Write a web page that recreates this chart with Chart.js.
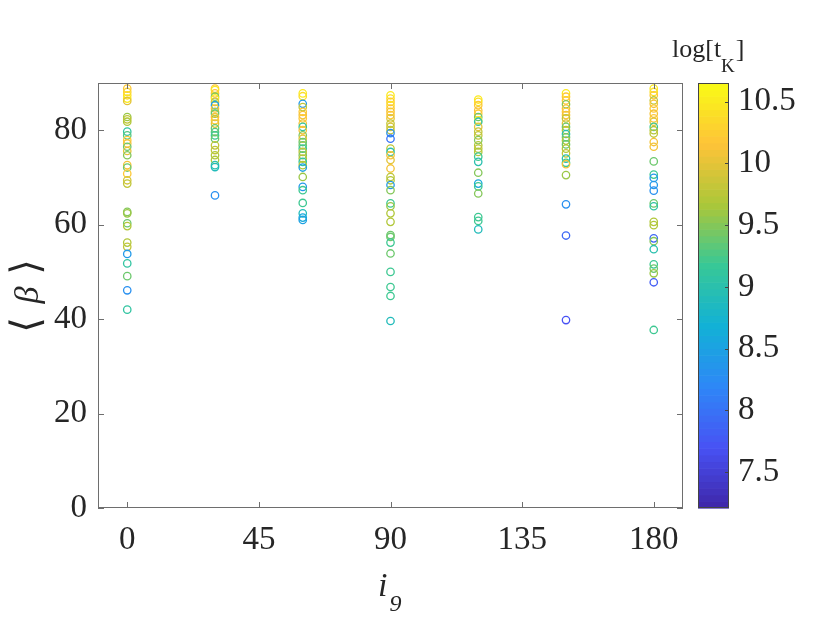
<!DOCTYPE html>
<html>
<head>
<meta charset="utf-8">
<script src="https://cdn.jsdelivr.net/npm/chart.js@4.4.1/dist/chart.umd.min.js"></script>
<style>
  html, body { margin: 0; padding: 0; background: #fff; }
  #wrap { width: 830px; height: 623px; }
</style>
</head>
<body>
<div id="wrap"><canvas id="scatter" width="830" height="623"></canvas></div>
<script>
// inclination columns and <beta> / log[tK]
const incl = [0, 30, 60, 90, 120, 150, 180];

const beta0 = [88.8, 88.1, 87.4, 86.7, 86.2, 82.8, 82.3, 81.8, 79.7, 78.9, 77.9, 77.2, 76.5, 75.6, 74.7, 72.6, 72.1, 70.8, 69.4, 68.7, 62.7, 62.4, 60.3, 59.7, 56.2, 55.3, 53.8, 51.8, 49.1, 46.1, 42.0];
const logt0 = [10.2, 10.3, 10.4, 10.5, 10.0, 9.6, 9.8, 9.7, 9.1, 9.3, 10.2, 10.1, 9.4, 10.0, 9.5, 10.1, 9.4, 10.2, 9.9, 9.8, 9.5, 9.6, 9.4, 9.7, 9.7, 9.8, 8.4, 9.1, 9.4, 8.3, 9.1];

const beta30 = [88.8, 88.5, 87.8, 87.1, 86.7, 86.0, 85.3, 84.6, 83.9, 83.5, 82.8, 82.1, 81.4, 80.4, 79.6, 78.9, 78.2, 76.8, 75.8, 74.7, 73.7, 72.6, 72.2, 66.2];
const logt30 = [10.2, 10.5, 10.2, 9.5, 10.5, 9.9, 8.5, 10.1, 9.8, 9.4, 10.1, 10.2, 10.0, 9.4, 9.3, 9.2, 9.4, 9.8, 9.8, 9.7, 9.7, 9.0, 8.9, 8.3];

const beta60 = [87.8, 87.2, 85.6, 84.9, 83.9, 83.2, 82.5, 81.4, 80.7, 80.0, 78.9, 78.2, 77.5, 76.8, 76.1, 75.4, 74.7, 74.0, 73.3, 72.6, 72.1, 70.1, 68.0, 67.3, 64.6, 62.4, 61.5, 61.0];
const logt60 = [10.5, 10.4, 8.4, 9.8, 10.2, 10.1, 10.2, 10.1, 9.1, 10.1, 9.5, 10.0, 9.4, 9.4, 9.2, 9.8, 9.5, 9.7, 9.1, 9.7, 8.5, 9.6, 8.4, 9.2, 9.2, 8.9, 8.6, 8.5];

const beta90 = [87.4, 86.7, 86.0, 85.3, 84.6, 83.9, 83.2, 82.5, 81.4, 80.7, 80.0, 79.4, 78.2, 76.1, 75.4, 74.7, 73.7, 71.9, 70.1, 69.4, 68.4, 67.3, 64.5, 63.9, 62.4, 60.6, 57.8, 57.4, 56.2, 53.9, 50.0, 46.8, 44.9, 39.6];
const logt90 = [10.5, 10.4, 10.2, 10.4, 10.2, 10.1, 10.2, 10.0, 9.8, 9.9, 9.8, 8.3, 8.0, 9.8, 9.0, 10.1, 10.0, 10.1, 9.8, 9.7, 8.4, 9.5, 9.2, 9.6, 9.7, 9.7, 9.4, 9.4, 9.2, 9.4, 9.2, 9.2, 9.2, 8.9];

const beta120 = [86.5, 86.0, 85.3, 84.2, 83.5, 82.8, 82.1, 81.8, 80.7, 79.7, 78.9, 77.9, 76.8, 76.1, 75.4, 74.4, 73.3, 71.0, 68.7, 68.1, 66.6, 61.6, 60.8, 59.0];
const logt120 = [10.5, 10.4, 10.2, 10.1, 10.2, 9.4, 10.5, 9.0, 10.0, 9.8, 9.8, 9.5, 9.7, 9.8, 9.7, 9.2, 9.0, 9.5, 8.6, 9.2, 9.5, 9.2, 9.2, 8.9];

const beta150 = [87.8, 87.1, 86.3, 85.5, 84.6, 83.9, 83.2, 82.5, 81.4, 80.7, 80.0, 79.2, 78.5, 77.8, 77.0, 76.1, 75.1, 74.0, 73.1, 72.8, 70.5, 64.3, 57.7, 39.8];
const logt150 = [10.5, 10.2, 10.2, 9.5, 10.1, 10.2, 10.1, 9.8, 10.0, 9.4, 9.7, 9.0, 9.4, 9.7, 9.4, 9.7, 9.8, 9.0, 9.2, 10.1, 9.6, 8.3, 7.9, 7.7];

const beta180 = [88.8, 88.1, 87.4, 86.3, 85.6, 84.6, 83.5, 82.5, 81.8, 80.7, 80.0, 79.3, 77.5, 76.5, 73.4, 70.6, 69.9, 68.4, 67.2, 64.5, 63.9, 60.6, 59.9, 57.1, 56.5, 54.8, 51.6, 50.7, 49.7, 47.8, 37.7];
const logt180 = [10.5, 10.4, 10.2, 9.8, 10.1, 10.2, 10.1, 10.2, 10.0, 9.2, 9.7, 9.8, 10.1, 10.1, 9.4, 9.2, 8.4, 8.4, 8.3, 9.4, 9.1, 9.7, 9.7, 7.9, 9.5, 9.0, 9.2, 9.4, 9.6, 7.8, 9.2];

const xTicks = [0, 45, 90, 135, 180];
const yTicks = [0, 20, 40, 60, 80];
const cTicks = [7.5, 8, 8.5, 9, 9.5, 10, 10.5];
const cMin = 7.21, cMax = 10.65;

const betaCols = [beta0, beta30, beta60, beta90, beta120, beta150, beta180];
const logtCols = [logt0, logt30, logt60, logt90, logt120, logt150, logt180];

// parula-like colormap
const parula = [[62, 38, 168], [72, 82, 244], [46, 135, 247], [18, 177, 214],
                [55, 200, 151], [171, 199, 57], [254, 195, 56], [249, 251, 21]];

function parulaColor(t) {
    t = Math.min(1, Math.max(0, t));
    const p = t * (parula.length - 1);
    const i = Math.min(parula.length - 2, Math.floor(p));
    const f = p - i;
    const a = parula[i], b = parula[i + 1];
    const c = a.map((v, k) => Math.round(v + (b[k] - v) * f));
    return 'rgb(' + c.join(',') + ')';
}

const points = [];
incl.forEach((x, ci) => {
    betaCols[ci].forEach((y, j) => {
        points.push({ x: x, y: y, c: logtCols[ci][j] });
    });
});

const serif = '"Liberation Serif", "Times New Roman", serif';
const axisGray = '#6e6e6e';
const textDark = '#262626';

const fixedTicks = (list) => (scale) => {
    scale.ticks = list.map(v => ({ value: v }));
};

const boxPlugin = {
    id: 'matlabBox',
    afterDraw(chart) {
        const ctx = chart.ctx;
        const a = chart.chartArea;
        const xs = chart.scales.x, ys = chart.scales.y, cs = chart.scales.cb;
        const tl = 6;
        ctx.save();

        // axes box
        ctx.strokeStyle = axisGray;
        ctx.lineWidth = 1;
        ctx.strokeRect(a.left + 0.5, a.top + 0.5, a.right - a.left - 1, a.bottom - a.top - 1);

        // inward ticks on all four sides
        ctx.beginPath();
        xTicks.forEach(v => {
            const px = Math.round(xs.getPixelForValue(v)) + 0.5;
            ctx.moveTo(px, a.bottom); ctx.lineTo(px, a.bottom - tl);
            ctx.moveTo(px, a.top); ctx.lineTo(px, a.top + tl);
        });
        yTicks.forEach(v => {
            const py = Math.round(ys.getPixelForValue(v)) + 0.5;
            ctx.moveTo(a.left, py); ctx.lineTo(a.left + tl, py);
            ctx.moveTo(a.right, py); ctx.lineTo(a.right - tl, py);
        });
        ctx.stroke();

        // colorbar
        const bx = 698, bw = 31;
        const top = cs.getPixelForValue(cMax), bot = cs.getPixelForValue(cMin);
        const steps = 64;
        for (let i = 0; i < steps; i++) {
            const y0 = bot - (bot - top) * (i + 1) / steps;
            const y1 = bot - (bot - top) * i / steps;
            ctx.fillStyle = parulaColor((i + 0.5) / steps);
            ctx.fillRect(bx, y0, bw, y1 - y0 + 0.6);
        }
        ctx.strokeStyle = '#444';
        ctx.strokeRect(bx + 0.5, top + 0.5, bw - 1, bot - top - 1);
        ctx.beginPath();
        cTicks.forEach(v => {
            const py = Math.round(cs.getPixelForValue(v)) + 0.5;
            ctx.moveTo(bx + bw, py); ctx.lineTo(bx + bw - 4, py);
        });
        ctx.stroke();

        // colorbar title log[t_K]
        ctx.fillStyle = textDark;
        ctx.textBaseline = 'alphabetic';
        ctx.textAlign = 'left';
        ctx.font = '26px ' + serif;
        const part1 = 'log[t';
        ctx.fillText(part1, 672, 57);
        const w1 = ctx.measureText(part1).width;
        ctx.font = '19px ' + serif;
        ctx.fillText('K', 672 + w1, 72);
        const wk = ctx.measureText('K').width;
        ctx.font = '26px ' + serif;
        ctx.fillText(']', 672 + w1 + wk + 1, 57);

        // x title i_9
        ctx.font = 'italic 34px ' + serif;
        ctx.fillText('i', 378, 596);
        const wi = ctx.measureText('i').width;
        ctx.font = 'italic 24px ' + serif;
        ctx.fillText('9', 378 + wi + 2, 611);

        // y title <beta>
        ctx.save();
        ctx.translate(29, 296);
        ctx.rotate(-Math.PI / 2);
        ctx.textAlign = 'center';
        ctx.textBaseline = 'middle';
        ctx.font = '40px "DejaVu Serif", serif';
        ctx.fillText('\u27E8', -29, 0);
        ctx.fillText('\u27E9', 29, 0);
        ctx.font = 'italic 34px ' + serif;
        ctx.fillText('\u03B2', 1, 0);
        ctx.restore();

        ctx.restore();
    }
};

new Chart(document.getElementById('scatter'), {
    type: 'scatter',
    data: {
        datasets: [{
            data: points,
            showLine: false,
            pointRadius: 3.7,
            pointHoverRadius: 3.7,
            pointBorderWidth: 1.3,
            pointBackgroundColor: 'rgba(0,0,0,0)',
            pointBorderColor: (ctx) => ctx.raw ? parulaColor((ctx.raw.c - cMin) / (cMax - cMin)) : '#000'
        }]
    },
    options: {
        responsive: false,
        animation: false,
        devicePixelRatio: 1,
        layout: { padding: { top: 83, left: 0, right: 0, bottom: 0 } },
        plugins: {
            legend: { display: false },
            tooltip: { enabled: false }
        },
        scales: {
            x: {
                type: 'linear',
                min: -10,
                max: 190,
                afterBuildTicks: fixedTicks(xTicks),
                afterFit: (s) => { s.height = 115; },
                grid: { display: false, drawTicks: false },
                border: { display: false },
                ticks: { color: textDark, padding: 13, font: { family: serif, size: 33 } }
            },
            y: {
                type: 'linear',
                min: 0,
                max: 90,
                afterBuildTicks: fixedTicks(yTicks),
                afterFit: (s) => { s.width = 98; },
                grid: { display: false, drawTicks: false },
                border: { display: false },
                ticks: { color: textDark, padding: 11, font: { family: serif, size: 33 } }
            },
            cb: {
                type: 'linear',
                position: 'right',
                min: cMin,
                max: cMax,
                afterBuildTicks: fixedTicks(cTicks),
                afterFit: (s) => { s.width = 147; },
                grid: { display: false, drawTicks: false },
                border: { display: false },
                ticks: {
                    color: textDark,
                    padding: 55,
                    font: { family: serif, size: 33 },
                    callback: (v) => String(v)
                }
            }
        }
    },
    plugins: [boxPlugin]
});
</script>
</body>
</html>
